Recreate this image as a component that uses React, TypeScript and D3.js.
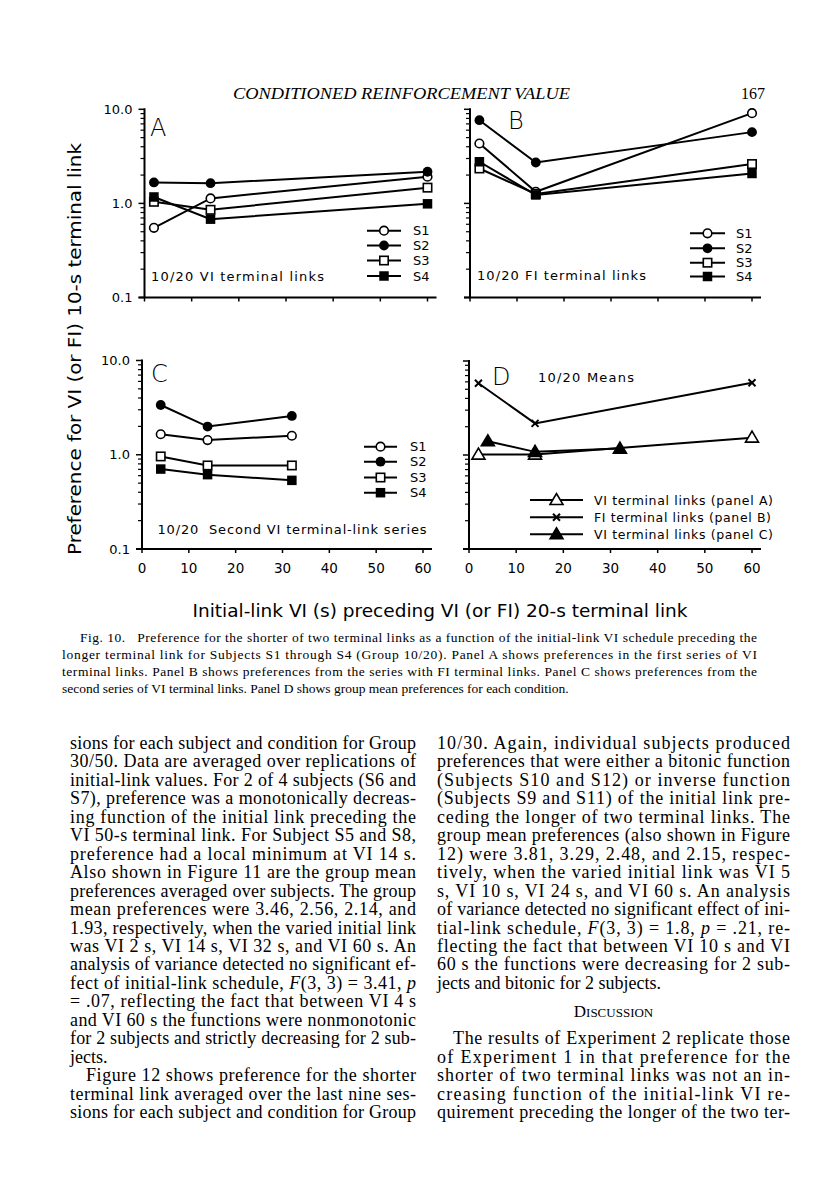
import React from "react";
import * as d3 from "d3";

// ---------- data ----------
const xTicks = [0, 10, 20, 30, 40, 50, 60];
const yMajor = [0.1, 1, 10];
const yMajorLabels = ["0.1", "1.0", "10.0"];

const xA = [2, 14, 60];
const aS1 = [0.55, 1.13, 1.92];
const aS2 = [1.67, 1.64, 2.17];
const aS3 = [1.04, 0.855, 1.47];
const aS4 = [1.17, 0.68, 0.99];

const xB = [2, 14, 60];
const bS1 = [4.33, 1.33, 9.1];
const bS2 = [7.66, 2.72, 5.72];
const bS3 = [2.35, 1.26, 2.62];
const bS4 = [2.77, 1.23, 2.08];

const xC = [4, 14, 32];
const cS1 = [1.65, 1.43, 1.59];
const cS2 = [3.37, 1.99, 2.58];
const cS3 = [0.96, 0.77, 0.77];
const cS4 = [0.705, 0.615, 0.535];

const xDA = [2, 14, 60];
const dA = [1.01, 1.01, 1.53];
const xDB = [2, 14, 60];
const dB = [5.8, 2.17, 5.88];
const xDC = [4, 14, 32];
const dC = [1.4, 1.08, 1.17];

const subjectNames = ["S1", "S2", "S3", "S4"];
const meanNames = [
  "VI terminal links (panel A)",
  "FI terminal links (panel B)",
  "VI terminal links (panel C)",
];

const leftCol = [
  "sions for each subject and condition for Group",
  "30/50. Data are averaged over replications of",
  "initial-link values. For 2 of 4 subjects (S6 and",
  "S7), preference was a monotonically decreas-",
  "ing function of the initial link preceding the",
  "VI 50-s terminal link. For Subject S5 and S8,",
  "preference had a local minimum at VI 14 s.",
  "Also shown in Figure 11 are the group mean",
  "preferences averaged over subjects. The group",
  "mean preferences were 3.46, 2.56, 2.14, and",
  "1.93, respectively, when the varied initial link",
  "was VI 2 s, VI 14 s, VI 32 s, and VI 60 s. An",
  "analysis of variance detected no significant ef-",
  "fect of initial-link schedule, *F*(3, 3) = 3.41, *p*",
  "= .07, reflecting the fact that between VI 4 s",
  "and VI 60 s the functions were nonmonotonic",
  "for 2 subjects and strictly decreasing for 2 sub-",
  "jects.",
  "Figure 12 shows preference for the shorter",
  "terminal link averaged over the last nine ses-",
  "sions for each subject and condition for Group",
];
const rightCol = [
  "10/30. Again, individual subjects produced",
  "preferences that were either a bitonic function",
  "(Subjects S10 and S12) or inverse function",
  "(Subjects S9 and S11) of the initial link pre-",
  "ceding the longer of two terminal links. The",
  "group mean preferences (also shown in Figure",
  "12) were 3.81, 3.29, 2.48, and 2.15, respec-",
  "tively, when the varied initial link was VI 5",
  "s, VI 10 s, VI 24 s, and VI 60 s. An analysis",
  "of variance detected no significant effect of ini-",
  "tial-link schedule, *F*(3, 3) = 1.8, *p* = .21, re-",
  "flecting the fact that between VI 10 s and VI",
  "60 s the functions were decreasing for 2 sub-",
  "jects and bitonic for 2 subjects.",
  "",
  "",
  "The results of Experiment 2 replicate those",
  "of Experiment 1 in that preference for the",
  "shorter of two terminal links was not an in-",
  "creasing function of the initial-link VI re-",
  "quirement preceding the longer of the two ter-",
];
const leftLast = [17];
const leftIndent = [18];
const rightLast = [13];
const rightIndent = [16];

const captionLines = [
  "Fig. 10.   Preference for the shorter of two terminal links as a function of the initial-link VI schedule preceding the",
  "longer terminal link for Subjects S1 through S4 (Group 10/20). Panel A shows preferences in the first series of VI",
  "terminal links. Panel B shows preferences from the series with FI terminal links. Panel C shows preferences from the",
  "second series of VI terminal links. Panel D shows group mean preferences for each condition.",
];

// ---------- helpers ----------
const SANS = "'DejaVu Sans', Verdana, sans-serif";
const SERIF = "'Liberation Serif', 'Times New Roman', serif";

type MarkerType = "oc" | "fc" | "os" | "fs" | "ot" | "ft" | "x";

function Marker({ t, cx, cy }: { t: MarkerType; cx: number; cy: number }) {
  if (t === "oc" || t === "fc")
    return (
      <circle
        cx={cx}
        cy={cy}
        r={t === "oc" ? 4.3 : 4.9}
        fill={t === "oc" ? "#fff" : "#000"}
        stroke="#000"
        strokeWidth={t === "oc" ? 1.6 : 0}
      />
    );
  if (t === "os" || t === "fs") {
    const s = t === "os" ? 8.4 : 9.5;
    return (
      <rect
        x={cx - s / 2}
        y={cy - s / 2}
        width={s}
        height={s}
        fill={t === "os" ? "#fff" : "#000"}
        stroke="#000"
        strokeWidth={t === "os" ? 1.6 : 0}
      />
    );
  }
  if (t === "ot" || t === "ft") {
    const w = 13, h = 11;
    const p = `M${cx - w / 2},${cy + h / 2 - 1}L${cx},${cy - h / 2 - 1}L${cx + w / 2},${cy + h / 2 - 1}Z`;
    return <path d={p} fill={t === "ot" ? "#fff" : "#000"} stroke="#000" strokeWidth={1.6} strokeLinejoin="miter" />;
  }
  return (
    <g stroke="#000" strokeWidth={2}>
      <line x1={cx - 3.5} y1={cy - 3.5} x2={cx + 3.5} y2={cy + 3.5} />
      <line x1={cx - 3.5} y1={cy + 3.5} x2={cx + 3.5} y2={cy - 3.5} />
    </g>
  );
}

type Series = { xs: number[]; ys: number[]; m: MarkerType };

function Panel({
  x0, x60, yTop, yBot, series, yLabels, xLabels, letter, letterX, letterY,
}: {
  x0: number; x60: number; yTop: number; yBot: number; series: Series[];
  yLabels: boolean; xLabels: boolean; letter: string; letterX: number; letterY: number;
}) {
  const xs = d3.scaleLinear().domain([0, 60]).range([x0, x60]);
  const ys = d3.scaleLog().domain([0.1, 10]).range([yBot, yTop]);
  const line = d3
    .line<[number, number]>()
    .x((d) => xs(d[0]))
    .y((d) => ys(d[1]));
  const minor: number[] = [];
  [0.1, 1].forEach((dec) => {
    for (let k = 2; k <= 9; k++) minor.push(dec * k);
  });
  return (
    <g>
      <line x1={x0 - 6} x2={x60 + 9} y1={yBot} y2={yBot} stroke="#000" strokeWidth={2} />
      <line x1={x0} x2={x0} y1={yBot} y2={yTop - 1} stroke="#000" strokeWidth={2} />
      {xTicks.map((t) => (
        <line key={"xt" + t} x1={xs(t)} x2={xs(t)} y1={yBot} y2={yBot + 4} stroke="#000" strokeWidth={1.5} />
      ))}
      {yMajor.map((t) => (
        <line key={"ym" + t} x1={x0 - 6} x2={x0} y1={ys(t)} y2={ys(t)} stroke="#000" strokeWidth={1.5} />
      ))}
      {minor.map((t) => (
        <line key={"yn" + t} x1={x0 - 4} x2={x0} y1={ys(t)} y2={ys(t)} stroke="#000" strokeWidth={1.2} />
      ))}
      {yLabels &&
        yMajor.map((t, i) => (
          <text key={"yl" + t} x={x0 - 12} y={ys(t) + 4.5} textAnchor="end" fontFamily={SANS} fontSize={13}>
            {yMajorLabels[i]}
          </text>
        ))}
      {xLabels &&
        xTicks.map((t) => (
          <text key={"xl" + t} x={xs(t)} y={yBot + 24} textAnchor="middle" fontFamily={SANS} fontSize={13.5}>
            {t}
          </text>
        ))}
      <text x={letterX} y={letterY} fontFamily={SANS} fontWeight={200} fontSize={24}>
        {letter}
      </text>
      {series.map((s, i) => (
        <path
          key={"l" + i}
          d={line(s.xs.map((x, j) => [x, s.ys[j]] as [number, number])) || ""}
          fill="none"
          stroke="#000"
          strokeWidth={2}
        />
      ))}
      {series.map((s, i) =>
        s.xs.map((x, j) => <Marker key={"m" + i + "-" + j} t={s.m} cx={xs(x)} cy={ys(s.ys[j])} />)
      )}
    </g>
  );
}

function Legend({
  x1, x2, textX, ys, labels, markers, fontSize, widths,
}: {
  x1: number; x2: number; textX: number; ys: number[]; labels: string[]; markers: MarkerType[]; fontSize: number; widths?: number[];
}) {
  return (
    <g>
      {labels.map((l, i) => (
        <g key={l + i}>
          <line x1={x1} x2={x2} y1={ys[i]} y2={ys[i]} stroke="#000" strokeWidth={2} />
          <Marker t={markers[i]} cx={(x1 + x2) / 2} cy={ys[i]} />
          <text
            x={textX}
            y={ys[i] + fontSize * 0.36}
            fontFamily={SANS}
            fontSize={fontSize}
            textLength={widths ? widths[i] : undefined}
            lengthAdjust="spacing"
          >
            {l}
          </text>
        </g>
      ))}
    </g>
  );
}

function RichText({ s }: { s: string }) {
  const parts = s.split("*");
  return (
    <>
      {parts.map((p, i) =>
        i % 2 === 1 ? (
          <tspan key={i} fontStyle="italic">
            {p}
          </tspan>
        ) : (
          <tspan key={i}>{p}</tspan>
        )
      )}
    </>
  );
}

function Column({
  lines, x, w, y0, dy, last, indent,
}: {
  lines: string[]; x: number; w: number; y0: number; dy: number; last: number[]; indent: number[];
}) {
  return (
    <g fontFamily={SERIF} fontSize={18}>
      {lines.map((l, i) => {
        if (!l) return null;
        const ind = indent.includes(i) ? 16 : 0;
        const isLast = last.includes(i);
        return (
          <text
            key={i}
            x={x + ind}
            y={y0 + i * dy}
            textLength={isLast ? undefined : w - ind}
            lengthAdjust="spacing"
          >
            <RichText s={l} />
          </text>
        );
      })}
    </g>
  );
}

const subjMarkers: MarkerType[] = ["oc", "fc", "os", "fs"];

export default function App() {
  const A: Series[] = [
    { xs: xA, ys: aS1, m: "oc" },
    { xs: xA, ys: aS2, m: "fc" },
    { xs: xA, ys: aS3, m: "os" },
    { xs: xA, ys: aS4, m: "fs" },
  ];
  const B: Series[] = [
    { xs: xB, ys: bS1, m: "oc" },
    { xs: xB, ys: bS2, m: "fc" },
    { xs: xB, ys: bS3, m: "os" },
    { xs: xB, ys: bS4, m: "fs" },
  ];
  const C: Series[] = [
    { xs: xC, ys: cS1, m: "oc" },
    { xs: xC, ys: cS2, m: "fc" },
    { xs: xC, ys: cS3, m: "os" },
    { xs: xC, ys: cS4, m: "fs" },
  ];
  const D: Series[] = [
    { xs: xDA, ys: dA, m: "ot" },
    { xs: xDB, ys: dB, m: "x" },
    { xs: xDC, ys: dC, m: "ft" },
  ];
  const dy = 18.45;
  return (
    <svg
      width={816}
      height={1200}
      viewBox="0 0 816 1200"
      style={{ position: "absolute", left: 0, top: 0, background: "#fff" }}
    >
      <rect width={816} height={1200} fill="#fff" />
      <text x={233} y={99} fontFamily={SERIF} fontStyle="italic" fontSize={16} textLength={337} lengthAdjust="spacingAndGlyphs">
        CONDITIONED REINFORCEMENT VALUE
      </text>
      <text x={765} y={99} textAnchor="end" fontFamily={SERIF} fontSize={16}>
        167
      </text>

      <Panel x0={144.5} x60={427.5} yTop={109.3} yBot={297.5} series={A} yLabels xLabels={false} letter="A" letterX={150} letterY={136} />
      <Panel x0={470} x60={752} yTop={109.3} yBot={297.5} series={B} yLabels={false} xLabels={false} letter="B" letterX={508} letterY={129} />
      <Panel x0={142} x60={423} yTop={360.5} yBot={549} series={C} yLabels xLabels letter="C" letterX={151} letterY={382} />
      <Panel x0={469} x60={752} yTop={361} yBot={549} series={D} yLabels={false} xLabels letter="D" letterX={492} letterY={385} />

      <Legend x1={367} x2={401} textX={413} ys={[230.7, 245.5, 260.5, 276]} labels={subjectNames} markers={subjMarkers} fontSize={13} />
      <Legend x1={690} x2={725} textX={736} ys={[233.3, 248.3, 262.7, 276.5]} labels={subjectNames} markers={subjMarkers} fontSize={13} />
      <Legend x1={364} x2={397} textX={410} ys={[446.7, 461.7, 477.5, 492.7]} labels={subjectNames} markers={subjMarkers} fontSize={13} />
      <Legend x1={530} x2={583} textX={594} ys={[500, 517.3, 534.3]} labels={meanNames} markers={["ot", "x", "ft"]} fontSize={12.5} widths={[179, 177, 179]} />

      <text x={151} y={281} fontFamily={SANS} fontSize={13} textLength={173} lengthAdjust="spacing">10/20 VI terminal links</text>
      <text x={477} y={279.5} fontFamily={SANS} fontSize={13} textLength={169} lengthAdjust="spacing">10/20 FI terminal links</text>
      <text x={157.5} y={533.5} fontFamily={SANS} fontSize={13} xmlSpace="preserve" textLength={269} lengthAdjust="spacing">10/20  Second VI terminal-link series</text>
      <text x={538} y={382} fontFamily={SANS} fontSize={13} textLength={96} lengthAdjust="spacing">10/20 Means</text>

      <text
        transform="translate(81,349) rotate(-90)"
        textAnchor="middle"
        fontFamily={SANS}
        fontSize={17}
        textLength={412}
        lengthAdjust="spacingAndGlyphs"
      >
        Preference for VI (or FI) 10-s terminal link
      </text>
      <text x={440} y={617} textAnchor="middle" fontFamily={SANS} fontSize={17} textLength={495} lengthAdjust="spacingAndGlyphs">
        Initial-link VI (s) preceding VI (or FI) 20-s terminal link
      </text>

      <g fontFamily={SERIF} fontSize={13.5}>
        {captionLines.map((l, i) => (
          <text
            key={i}
            x={i === 0 ? 80 : 62}
            y={642 + i * 17}
            textLength={i === 3 ? undefined : i === 0 ? 677 : 695}
            lengthAdjust="spacing"
            xmlSpace="preserve"
          >
            {l}
          </text>
        ))}
      </g>

      <Column lines={leftCol} x={70} w={346} y0={749} dy={dy} last={leftLast} indent={leftIndent} />
      <Column lines={rightCol} x={437} w={353} y0={749} dy={dy} last={rightLast} indent={rightIndent} />
      <text x={613.5} y={749 + 14.55 * dy} textAnchor="middle" fontFamily={SERIF} fontSize={17}>
        D<tspan fontSize={13}>ISCUSSION</tspan>
      </text>
    </svg>
  );
}
